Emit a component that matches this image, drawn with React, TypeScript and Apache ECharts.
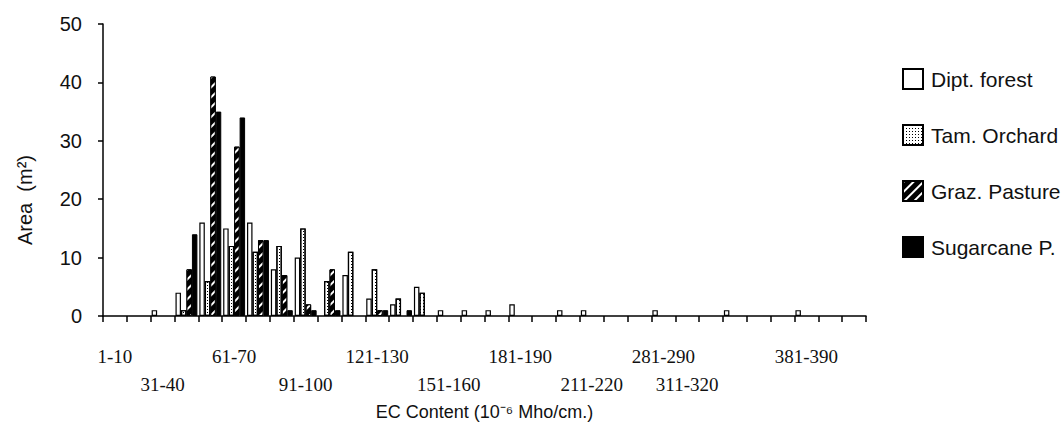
import React, { useEffect, useRef } from "react";
import * as echarts from "echarts";

const categories = [
  "1-10", "21-30", "31-40", "41-50", "51-60", "61-70", "71-80", "81-90",
  "91-100", "101-110", "111-120", "121-130", "131-140", "141-150", "151-160", "161-170",
  "171-180", "181-190", "191-200", "201-210", "211-220", "221-230", "271-280", "281-290",
  "311-320", "321-330", "331-340", "341-350", "371-380", "381-390", "391-400", "401-410",
];

const diptForest = [0, 0, 1, 4, 16, 15, 16, 8, 10, 0, 7, 3, 2, 5, 1, 1, 1, 2, 0, 1, 1, 0, 0, 1, 0, 0, 1, 0, 0, 1, 0, 0];
const tamOrchard = [0, 0, 0, 1, 6, 12, 11, 12, 15, 6, 11, 8, 3, 4, 0, 0, 0, 0, 0, 0, 0, 0, 0, 0, 0, 0, 0, 0, 0, 0, 0, 0];
const grazPasture = [0, 0, 0, 8, 41, 29, 13, 7, 2, 8, 0, 1, 0, 0, 0, 0, 0, 0, 0, 0, 0, 0, 0, 0, 0, 0, 0, 0, 0, 0, 0, 0];
const sugarcane = [0, 0, 0, 14, 35, 34, 13, 1, 1, 1, 0, 1, 1, 0, 0, 0, 0, 0, 0, 0, 0, 0, 0, 0, 0, 0, 0, 0, 0, 0, 0, 0];

const seriesNames = ["Dipt. forest", "Tam. Orchard", "Graz. Pasture", "Sugarcane P."];
const labelRow1 = [0, 5, 11, 17, 23, 29];
const labelRow2 = [2, 8, 14, 20, 24];
const yTicks = [0, 10, 20, 30, 40, 50];

export default function App() {
  const ref = useRef<HTMLDivElement>(null);
  useEffect(() => {
    if (!ref.current) return;
    const chart = echarts.init(ref.current, null, { renderer: "svg" });
    const sans = "'Liberation Sans', Arial, sans-serif";
    const serif = "'Liberation Serif', 'Times New Roman', serif";
    const nz = (arr: number[]) => arr.map((v) => (v === 0 ? null : v));
    chart.setOption({
      animation: false,
      backgroundColor: "#fff",
      grid: { left: 103, right: 195, top: 24, bottom: 126, containLabel: false },
      legend: {
        orient: "vertical",
        left: 897,
        top: 63,
        itemWidth: 20,
        itemHeight: 20,
        itemGap: 34,
        icon: "rect",
        data: seriesNames,
        textStyle: { fontSize: 21, fontFamily: sans, color: "#111", padding: [0, 0, 0, 3] },
      },
      xAxis: {
        type: "category",
        data: categories,
        boundaryGap: true,
        name: "EC Content (10\u207B\u2076 Mho/cm.)",
        nameLocation: "middle",
        nameGap: 80,
        nameTextStyle: { fontSize: 18, fontFamily: sans, color: "#111" },
        axisLine: { lineStyle: { color: "#000", width: 1.5 } },
        axisTick: { show: true, interval: 0, length: 6, lineStyle: { color: "#000", width: 1.5 } },
        axisLabel: {
          interval: (index: number) => labelRow1.includes(index) || labelRow2.includes(index),
          formatter: (value: string, index: number) => (labelRow2.includes(index) ? "\n" + value : value),
          fontSize: 19,
          lineHeight: 28,
          margin: 26,
          fontFamily: serif,
          color: "#111",
        },
        splitLine: { show: false },
      },
      yAxis: {
        type: "value",
        min: yTicks[0],
        max: yTicks[yTicks.length - 1],
        interval: 10,
        name: "Area  (m\u00B2)",
        nameLocation: "middle",
        nameGap: 68,
        nameTextStyle: { fontSize: 20, fontFamily: sans, color: "#111", padding: [0, 60, 0, 0] },
        axisLine: { show: true, lineStyle: { color: "#000", width: 1.5 } },
        axisTick: { show: true, length: 5, lineStyle: { color: "#000", width: 1.5 } },
        axisLabel: { fontSize: 20, fontFamily: sans, color: "#111", margin: 21 },
        splitLine: { show: false },
      },
      series: [
        {
          name: seriesNames[0],
          type: "bar",
          data: nz(diptForest),
          barGap: "0%",
          barCategoryGap: "8%",
          itemStyle: { color: "#fff", borderColor: "#000", borderWidth: 1.2 },
        },
        {
          name: seriesNames[1],
          type: "bar",
          data: nz(tamOrchard),
          itemStyle: {
            color: "#fff",
            borderColor: "#000",
            borderWidth: 1.2,
            decal: { symbol: "rect", symbolSize: 1, color: "#000", dashArrayX: [1, 2], dashArrayY: [1, 2], rotation: 0 },
          },
        },
        {
          name: seriesNames[2],
          type: "bar",
          data: nz(grazPasture),
          itemStyle: {
            color: "#000",
            borderColor: "#000",
            borderWidth: 1,
            decal: { symbol: "rect", symbolSize: 1, color: "#fff", dashArrayX: [1, 0], dashArrayY: [2, 5], rotation: -Math.PI / 4 },
          },
        },
        {
          name: seriesNames[3],
          type: "bar",
          data: nz(sugarcane),
          itemStyle: { color: "#000", borderColor: "#000", borderWidth: 1 },
        },
      ],
    });
    return () => chart.dispose();
  }, []);
  return <div ref={ref} style={{ width: 1061, height: 442, position: "absolute", left: 0, top: 0 }} />;
}
